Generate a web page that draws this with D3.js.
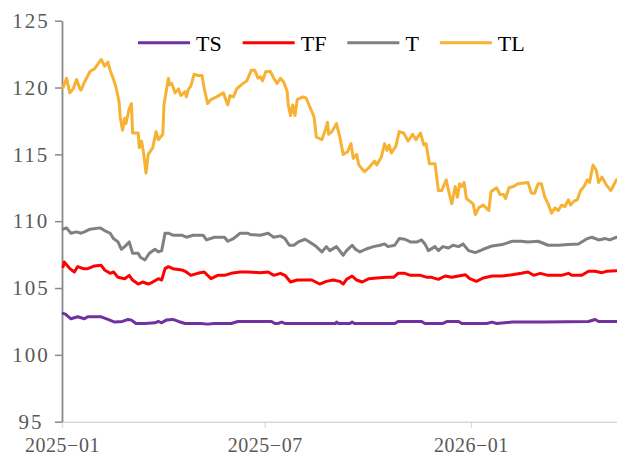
<!DOCTYPE html>
<html>
<head>
<meta charset="utf-8">
<script src="https://cdn.jsdelivr.net/npm/d3@7"></script>
<style>
  html, body { margin: 0; padding: 0; background: #fff; }
  svg { display: block; }
</style>
</head>
<body>
<div id="grafico"></div>
<script>
// Precios de futuros de bonos: TS, TF, T, TL
var width = 617;
var height = 456;

// Datos
var tsDates = ["2025-01-02","2025-01-04","2025-01-09","2025-01-15","2025-01-21","2025-01-24","2025-02-05","2025-02-11","2025-02-17","2025-02-24",
  "2025-03-01","2025-03-04","2025-03-08","2025-03-16","2025-03-25","2025-03-28","2025-03-31","2025-04-04","2025-04-10","2025-04-15",
  "2025-04-21","2025-05-05","2025-05-11","2025-05-17","2025-06-01","2025-06-07","2025-07-07","2025-07-10","2025-07-13","2025-07-16",
  "2025-07-19","2025-09-02","2025-09-03","2025-09-05","2025-09-15","2025-09-17","2025-09-19","2025-10-25","2025-10-28","2025-11-18",
  "2025-11-21","2025-12-07","2025-12-11","2025-12-21","2025-12-24","2026-01-15","2026-01-20","2026-01-24","2026-02-07","2026-02-18",
  "2026-03-08","2026-04-16","2026-04-22","2026-04-25","2026-05-11"];
var tsValues = [103.1,103.05,102.7,102.85,102.7,102.85,102.85,102.65,102.45,102.5,
  102.65,102.6,102.35,102.35,102.4,102.5,102.4,102.6,102.65,102.5,
  102.35,102.35,102.3,102.35,102.35,102.5,102.5,102.35,102.35,102.45,
  102.35,102.35,102.45,102.35,102.35,102.45,102.35,102.35,102.5,102.5,
  102.35,102.35,102.5,102.5,102.35,102.35,102.45,102.35,102.45,102.45,
  102.45,102.5,102.65,102.5,102.5];

var tfDates = ["2025-01-02","2025-01-03","2025-01-08","2025-01-12","2025-01-15","2025-01-20","2025-01-24","2025-01-30","2025-02-05","2025-02-08",
  "2025-02-13","2025-02-16","2025-02-20","2025-02-26","2025-03-02","2025-03-05","2025-03-10","2025-03-14","2025-03-19","2025-03-23",
  "2025-03-28","2025-03-31","2025-04-03","2025-04-06","2025-04-10","2025-04-18","2025-04-22","2025-04-26","2025-05-02","2025-05-08",
  "2025-05-14","2025-05-20","2025-05-26","2025-06-01","2025-06-09","2025-06-16","2025-06-27","2025-07-04","2025-07-09","2025-07-15",
  "2025-07-19","2025-07-24","2025-07-30","2025-08-06","2025-08-12","2025-08-19","2025-08-25","2025-08-31","2025-09-06","2025-09-09",
  "2025-09-12","2025-09-17","2025-09-21","2025-09-26","2025-10-02","2025-10-09","2025-10-18","2025-10-24","2025-10-28","2025-11-03",
  "2025-11-08","2025-11-17","2025-11-23","2025-11-27","2025-12-03","2025-12-09","2025-12-15","2025-12-21","2025-12-27","2025-12-31",
  "2026-01-06","2026-01-12","2026-01-20","2026-01-29","2026-02-07","2026-02-15","2026-02-21","2026-02-26","2026-03-04","2026-03-11",
  "2026-03-23","2026-03-29","2026-04-01","2026-04-10","2026-04-16","2026-04-22","2026-04-28","2026-05-02","2026-05-11"];
var tfValues = [106.6,106.95,106.45,106.2,106.6,106.45,106.45,106.65,106.7,106.35,
  106.1,106.2,105.8,105.7,105.95,105.6,105.3,105.45,105.3,105.45,
  105.7,105.6,106.45,106.6,106.45,106.35,106.2,105.95,106.1,106.2,
  105.7,105.95,105.95,106.1,106.2,106.2,106.15,106.2,105.95,106.1,
  105.95,105.45,105.6,105.6,105.6,105.3,105.5,105.6,105.5,105.3,
  105.65,105.9,105.6,105.45,105.7,105.75,105.8,105.8,106.1,106.1,
  105.95,105.95,105.8,105.8,105.65,105.9,105.8,105.9,106.0,105.7,
  105.5,105.75,105.9,105.9,106.0,106.1,106.2,105.95,106.1,105.95,
  105.95,106.1,105.95,105.95,106.25,106.25,106.15,106.25,106.3];

var tDates = ["2025-01-02","2025-01-05","2025-01-09","2025-01-14","2025-01-18","2025-01-21","2025-01-26","2025-02-04","2025-02-08","2025-02-13",
  "2025-02-16","2025-02-20","2025-02-23","2025-02-26","2025-03-02","2025-03-05","2025-03-10","2025-03-12","2025-03-16","2025-03-20",
  "2025-03-25","2025-03-28","2025-03-31","2025-04-03","2025-04-06","2025-04-10","2025-04-18","2025-04-22","2025-04-28","2025-05-02",
  "2025-05-07","2025-05-10","2025-05-17","2025-05-26","2025-05-29","2025-06-03","2025-06-09","2025-06-16","2025-06-18","2025-06-27",
  "2025-07-04","2025-07-09","2025-07-15","2025-07-19","2025-07-23","2025-07-27","2025-07-31","2025-08-06","2025-08-10","2025-08-16",
  "2025-08-21","2025-08-25","2025-08-28","2025-09-03","2025-09-09","2025-09-12","2025-09-17","2025-09-20","2025-09-24","2025-09-29",
  "2025-10-06","2025-10-12","2025-10-16","2025-10-19","2025-10-25","2025-10-29","2025-11-03","2025-11-08","2025-11-14","2025-11-18",
  "2025-11-21","2025-11-24","2025-11-30","2025-12-03","2025-12-07","2025-12-12","2025-12-16","2025-12-21","2025-12-25","2025-12-30",
  "2026-01-05","2026-01-12","2026-01-20","2026-01-29","2026-02-07","2026-02-15","2026-02-21","2026-03-02","2026-03-11","2026-03-20",
  "2026-03-29","2026-04-07","2026-04-15","2026-04-19","2026-04-25","2026-05-01","2026-05-05","2026-05-11"];
var tValues = [109.4,109.5,109.1,109.2,109.1,109.2,109.4,109.5,109.3,109.1,
  108.7,108.45,107.9,108.1,108.45,107.6,107.6,107.3,107.1,107.6,
  107.9,107.7,107.8,109.1,109.1,108.95,108.95,108.8,108.95,108.95,
  108.95,108.6,108.8,108.8,108.5,108.7,109.1,109.1,109.0,108.95,
  109.1,108.8,108.9,108.7,108.2,108.2,108.45,108.65,108.45,108.1,
  107.7,108.1,107.8,108.1,107.45,107.8,108.2,107.9,107.7,107.9,
  108.1,108.2,108.3,108.1,108.2,108.7,108.65,108.45,108.45,108.6,
  108.3,107.8,108.1,107.8,108.1,108.0,108.2,108.1,108.3,107.8,
  107.65,107.9,108.15,108.25,108.5,108.5,108.45,108.5,108.2,108.2,
  108.25,108.3,108.7,108.8,108.6,108.7,108.6,108.8];

var tlDates = ["2025-01-02","2025-01-05","2025-01-08","2025-01-11","2025-01-14","2025-01-17","2025-01-18","2025-01-21","2025-01-26","2025-01-30",
  "2025-02-05","2025-02-08","2025-02-11","2025-02-13","2025-02-16","2025-02-18","2025-02-21","2025-02-22","2025-02-24","2025-02-26",
  "2025-02-27","2025-03-02","2025-03-04","2025-03-05","2025-03-10","2025-03-11","2025-03-13","2025-03-15","2025-03-17","2025-03-19",
  "2025-03-23","2025-03-26","2025-03-28","2025-04-01","2025-04-02","2025-04-06","2025-04-07","2025-04-09","2025-04-12","2025-04-15",
  "2025-04-17","2025-04-21","2025-04-22","2025-04-24","2025-04-26","2025-04-29","2025-05-02","2025-05-06","2025-05-08","2025-05-11",
  "2025-05-14","2025-05-19","2025-05-25","2025-05-29","2025-05-31","2025-06-03","2025-06-06","2025-06-10","2025-06-15","2025-06-19",
  "2025-06-22","2025-06-25","2025-06-27","2025-06-29","2025-07-02","2025-07-06","2025-07-09","2025-07-12","2025-07-15","2025-07-18",
  "2025-07-21","2025-07-22","2025-07-24","2025-07-26","2025-07-28","2025-07-30","2025-08-04","2025-08-07","2025-08-10","2025-08-14",
  "2025-08-16","2025-08-21","2025-08-24","2025-08-26","2025-08-27","2025-08-30","2025-09-03","2025-09-06","2025-09-09","2025-09-13",
  "2025-09-16","2025-09-18","2025-09-21","2025-09-23","2025-09-28","2025-10-02","2025-10-07","2025-10-09","2025-10-13","2025-10-16",
  "2025-10-18","2025-10-20","2025-10-22","2025-10-26","2025-10-29","2025-11-02","2025-11-06","2025-11-10","2025-11-13","2025-11-17",
  "2025-11-20","2025-11-22","2025-11-25","2025-11-30","2025-12-03","2025-12-06","2025-12-10","2025-12-12","2025-12-15","2025-12-18",
  "2025-12-20","2025-12-22","2025-12-24","2025-12-26","2025-12-28","2025-12-31","2026-01-03","2026-01-05","2026-01-08","2026-01-12",
  "2026-01-17","2026-01-19","2026-01-24","2026-01-27","2026-01-30","2026-02-01","2026-02-04","2026-02-08","2026-02-12","2026-02-21",
  "2026-02-24","2026-02-27","2026-03-02","2026-03-05","2026-03-08","2026-03-11","2026-03-14","2026-03-17","2026-03-20","2026-03-23",
  "2026-03-26","2026-03-29","2026-03-31","2026-04-03","2026-04-06","2026-04-09","2026-04-12","2026-04-15","2026-04-17","2026-04-20",
  "2026-04-23","2026-04-25","2026-04-28","2026-05-02","2026-05-06","2026-05-11"];
var tlValues = [120.0,120.7,119.6,119.9,120.6,119.9,119.8,120.4,121.2,121.4,
  122.1,121.6,121.9,121.3,120.6,120.1,118.9,117.8,116.8,117.7,
  117.3,118.4,118.8,116.6,116.6,115.5,116.0,115.0,113.6,115.0,
  115.5,116.7,116.1,116.5,118.7,120.7,120.2,120.3,119.6,119.9,
  119.4,119.7,119.3,119.9,120.1,121.0,120.9,120.9,119.9,118.8,
  119.1,119.3,119.6,118.7,119.4,119.3,119.9,120.2,120.5,121.3,
  121.3,120.7,120.8,120.5,121.2,121.2,120.7,120.3,120.7,120.4,
  119.7,118.7,117.9,118.7,117.9,119.1,119.3,119.2,118.6,117.8,
  116.3,116.1,116.8,117.4,116.5,116.7,117.3,116.3,115.0,115.2,
  115.8,114.7,115.0,114.2,113.7,114.0,114.5,114.2,114.8,115.8,
  115.3,115.7,115.1,115.6,116.7,116.6,116.0,116.5,116.1,116.6,
  115.7,115.8,114.3,114.3,112.3,112.3,113.1,112.3,111.3,112.6,
  111.8,112.8,112.6,112.9,111.7,111.5,111.3,110.5,111.0,111.2,
  110.8,112.2,112.5,112.0,112.0,111.7,112.5,112.6,112.8,112.9,
  112.1,112.1,112.8,112.8,111.8,111.3,110.6,111.0,110.8,111.2,
  111.1,111.6,111.2,111.5,111.6,112.3,112.6,113.1,112.9,114.2,
  113.8,112.9,113.3,112.7,112.3,113.1];

var seriesNames = ["TS", "TF", "T", "TL"];
var seriesColors = ["#7030A0", "#FF0000", "#808080", "#F7B233"];
var seriesDates = [tsDates, tfDates, tDates, tlDates];
var seriesValues = [tsValues, tfValues, tValues, tlValues];

var yTicks = [95, 100, 105, 110, 115, 120, 125];
var xTickDates = ["2025-01-01", "2025-07-01", "2026-01-01"];
var xTickLabels = ["2025\u221201", "2025\u221207", "2026\u221201"];

var parseDate = d3.timeParse("%Y-%m-%d");

// Escalas
var x = d3.scaleTime()
    .domain([parseDate("2025-01-01"), parseDate("2026-05-11")])
    .range([62, 616.5]);

var y = d3.scaleLinear()
    .domain([95, 125])
    .range([421.7, 20.7]);

var svg = d3.select("#grafico")
    .append("svg")
    .attr("width", width)
    .attr("height", height);

var fuente = "'Liberation Serif', 'Times New Roman', serif";

// Eje X
var xAxis = d3.axisBottom(x)
    .tickValues(xTickDates.map(parseDate))
    .tickFormat(function(d, i) { return xTickLabels[i]; })
    .tickSize(6)
    .tickSizeOuter(0);

var gx = svg.append("g")
    .attr("transform", "translate(0," + y(95) + ")")
    .call(xAxis);
gx.select(".domain").attr("stroke", "#d9d9d9").attr("stroke-width", 1.5);
gx.selectAll(".tick line").attr("stroke", "#d9d9d9").attr("stroke-width", 1.3);
gx.selectAll(".tick text")
    .attr("y", 30)
    .attr("dy", 0)
    .attr("fill", "#595959")
    .style("font-family", fuente)
    .style("font-size", "20px")
    .style("letter-spacing", "0.5px");

// Eje Y
var yAxis = d3.axisLeft(y)
    .tickValues(yTicks)
    .tickSize(7)
    .tickSizeOuter(0);

var gy = svg.append("g")
    .attr("transform", "translate(62,0)")
    .call(yAxis);
gy.select(".domain").attr("stroke", "#898989").attr("stroke-width", 1.8);
gy.selectAll(".tick line").attr("stroke", "#898989").attr("stroke-width", 1.5);
gy.selectAll(".tick text")
    .attr("x", -31)
    .attr("text-anchor", "middle")
    .attr("fill", "#595959")
    .style("font-family", fuente)
    .style("font-size", "21px")
    .style("letter-spacing", "2px");

// Lineas
var line = d3.line()
    .x(function(d) { return x(d.date); })
    .y(function(d) { return y(d.value); });

seriesNames.forEach(function(name, i) {
    var datos = seriesDates[i].map(function(fecha, j) {
        return { date: parseDate(fecha), value: seriesValues[i][j] };
    });
    svg.append("path")
        .datum(datos)
        .attr("fill", "none")
        .attr("stroke", seriesColors[i])
        .attr("stroke-width", 3)
        .attr("stroke-linejoin", "round")
        .attr("stroke-linecap", "round")
        .attr("d", line);
});

// Leyenda
var legend = svg.append("g");
var lx = 138;
seriesNames.forEach(function(name, i) {
    legend.append("line")
        .attr("x1", lx).attr("x2", lx + 52)
        .attr("y1", 42.7).attr("y2", 42.7)
        .attr("stroke", seriesColors[i])
        .attr("stroke-width", 3);
    var t = legend.append("text")
        .attr("x", lx + 58)
        .attr("y", 50.5)
        .attr("fill", "#000")
        .style("font-family", fuente)
        .style("font-size", "22px")
        .text(name);
    lx = lx + 58 + t.node().getComputedTextLength() + 21;
});
</script>
</body>
</html>
